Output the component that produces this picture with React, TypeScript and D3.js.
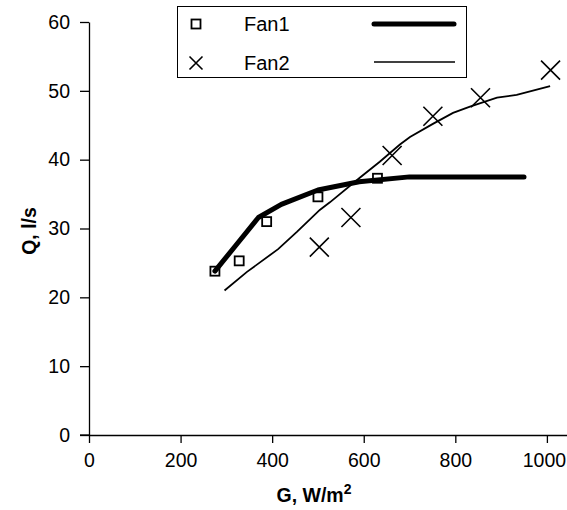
import * as d3 from 'd3';
import React, { useEffect, useRef } from 'react';

// Fan1 measured points (squares) and fitted curve (thick)
const fan1G = [275, 328, 388, 500, 630];
const fan1Q = [23.8, 25.3, 31.0, 34.6, 37.3];
const fan1CurveG = [275, 320, 370, 420, 500, 590, 700, 950];
const fan1CurveQ = [23.8, 27.5, 31.6, 33.5, 35.6, 36.8, 37.5, 37.5];

// Fan2 measured points (crosses) and fitted curve (thin)
const fan2G = [503, 572, 662, 751, 855, 1008];
const fan2Q = [27.3, 31.6, 40.6, 46.3, 49.0, 53.0];
const fan2CurveG = [296, 345, 413, 454, 504, 526, 592, 635, 679, 701, 751, 795, 832, 891, 934, 1007];
const fan2CurveQ = [21.0, 23.7, 27.0, 29.5, 32.7, 33.8, 37.4, 39.7, 42.2, 43.3, 45.2, 46.8, 47.7, 49.0, 49.4, 50.7];

const xTicks = [0, 200, 400, 600, 800, 1000];
const yTicks = [0, 10, 20, 30, 40, 50, 60];

const W = 567;
const H = 510;
const FONT = 'Liberation Sans, Arial, sans-serif';

const App = () => {
  const ref = useRef<SVGSVGElement>(null);

  useEffect(() => {
    const svg = d3.select(ref.current);
    svg.selectAll('*').remove();

    const x = d3.scaleLinear().domain([0, 1045]).range([89, 567.5]);
    const y = d3.scaleLinear().domain([0, 60]).range([435, 22]);

    // axes
    const xAxis = svg.append('g').attr('transform', `translate(0,${y(0)})`)
      .call(d3.axisBottom(x).tickValues(xTicks).tickFormat(d3.format('d')).tickSize(8).tickSizeOuter(0).tickPadding(10));
    const yAxis = svg.append('g').attr('transform', `translate(${x(0)},0)`)
      .call(d3.axisLeft(y).tickValues(yTicks).tickSize(9).tickSizeOuter(0).tickPadding(10));
    [xAxis, yAxis].forEach(a => {
      a.attr('font-size', null).attr('font-family', null);
      a.select('.domain').attr('stroke', '#000').attr('stroke-width', 1.3);
      a.selectAll('line').attr('stroke', '#000').attr('stroke-width', 1.3);
      a.selectAll('text').attr('font-family', FONT).attr('font-size', 19.5).attr('fill', '#000');
    });
    // last x label sits against the right edge
    xAxis.selectAll('text').filter((d: any) => d === 1000).attr('dx', -3);
    // extend x axis line left of origin to meet the y tick
    svg.append('line').attr('x1', x(0) - 9).attr('x2', x(0)).attr('y1', y(0)).attr('y2', y(0))
      .attr('stroke', '#000').attr('stroke-width', 1.3);

    // axis titles
    svg.append('text').attr('x', 314).attr('y', 502).attr('text-anchor', 'middle')
      .attr('font-family', FONT).attr('font-size', 19.5).attr('font-weight', 'bold')
      .text('G, W/m').append('tspan').attr('font-size', 14).attr('dy', -8).text('2');
    svg.append('text').attr('transform', `translate(36,231) rotate(-90)`).attr('text-anchor', 'middle')
      .attr('font-family', FONT).attr('font-size', 19.5).attr('font-weight', 'bold').text('Q, l/s');

    const line = d3.line<[number, number]>().x(d => x(d[0])).y(d => y(d[1]));

    // curves
    svg.append('path').datum(fan2CurveG.map((g, i) => [g, fan2CurveQ[i]] as [number, number]))
      .attr('d', line).attr('fill', 'none').attr('stroke', '#000').attr('stroke-width', 1.8);
    svg.append('path').datum(fan1CurveG.map((g, i) => [g, fan1CurveQ[i]] as [number, number]))
      .attr('d', line).attr('fill', 'none').attr('stroke', '#000').attr('stroke-width', 5)
      .attr('stroke-linecap', 'round').attr('stroke-linejoin', 'round');

    // markers
    const square = (g: any, cx: number, cy: number) =>
      g.append('rect').attr('x', cx - 4.5).attr('y', cy - 4.5).attr('width', 9).attr('height', 9)
        .attr('fill', 'none').attr('stroke', '#000').attr('stroke-width', 1.8);
    const cross = (g: any, cx: number, cy: number, r: number) =>
      g.append('path').attr('d', `M${cx - r},${cy - r}L${cx + r},${cy + r}M${cx - r},${cy + r}L${cx + r},${cy - r}`)
        .attr('stroke', '#000').attr('stroke-width', 1.6).attr('fill', 'none');

    const marks = svg.append('g');
    fan1G.forEach((g, i) => square(marks, x(g), y(fan1Q[i])));
    fan2G.forEach((g, i) => cross(marks, x(g), y(fan2Q[i]), 9.5));

    // legend
    const leg = svg.append('g');
    leg.append('rect').attr('x', 177.5).attr('y', 6.5).attr('width', 289).attr('height', 71)
      .attr('fill', '#fff').attr('stroke', '#000').attr('stroke-width', 1);
    square(leg, 196, 24);
    cross(leg, 196, 63, 6.5);
    leg.append('text').attr('x', 244).attr('y', 31).attr('font-family', FONT).attr('font-size', 20).text('Fan1');
    leg.append('text').attr('x', 244).attr('y', 70).attr('font-family', FONT).attr('font-size', 20).text('Fan2');
    leg.append('line').attr('x1', 374).attr('x2', 454).attr('y1', 24).attr('y2', 24)
      .attr('stroke', '#000').attr('stroke-width', 5).attr('stroke-linecap', 'round');
    leg.append('line').attr('x1', 374).attr('x2', 455).attr('y1', 62).attr('y2', 62)
      .attr('stroke', '#000').attr('stroke-width', 1.5);
  }, []);

  return (
    <svg ref={ref} width={W} height={H} style={{ position: 'absolute', left: 0, top: 0, background: '#fff' }} />
  );
};

export default App;
